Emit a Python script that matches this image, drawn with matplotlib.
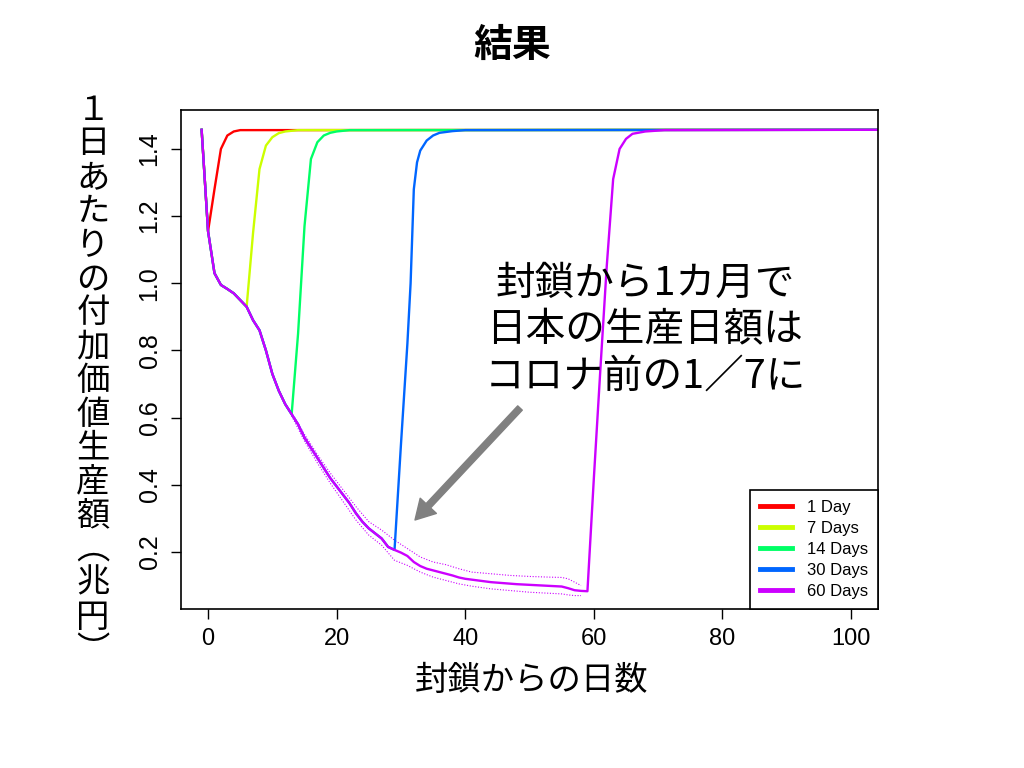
import matplotlib
matplotlib.use("Agg")
import matplotlib.pyplot as plt

JP = "Noto Sans CJK JP"
EN = "Liberation Sans"

# shared decline path (days since lockdown, trillion yen per day)
decline_days = [-1, 0, 1, 2, 3, 4, 5, 6, 7, 8, 9, 10, 11, 12, 13, 14, 15, 16, 17, 18,
                19, 20, 21, 22, 23, 24, 25, 26, 27, 28, 29, 30, 31, 32, 33, 34, 35, 36,
                37, 38, 39, 40, 42, 44, 46, 48, 50, 52, 54, 55, 56, 57, 58, 59]
decline_vals = [1.457, 1.155, 1.03, 0.995, 0.983, 0.97, 0.95, 0.93, 0.89, 0.86, 0.80,
                0.73, 0.68, 0.64, 0.61, 0.58, 0.54, 0.51, 0.48, 0.45, 0.42, 0.395, 0.37,
                0.345, 0.315, 0.29, 0.27, 0.255, 0.24, 0.215, 0.206, 0.198, 0.188, 0.17,
                0.158, 0.15, 0.145, 0.14, 0.135, 0.13, 0.124, 0.12, 0.115, 0.11, 0.107,
                0.104, 0.102, 0.10, 0.098, 0.097, 0.092, 0.086, 0.084, 0.083]

# recovery after lockdown ends
labels = ["1 Day", "7 Days", "14 Days", "30 Days", "60 Days"]
colors = ["#FF0000", "#CCFF00", "#00FF66", "#0066FF", "#CC00FF"]
end_day = [0, 6, 13, 29, 59]
rec_days = [
    [1, 2, 3, 4, 5, 104],
    [7, 8, 9, 10, 11, 12, 14, 104],
    [14, 15, 16, 17, 18, 19, 20, 22, 104],
    [30, 31, 31.5, 32, 32.5, 33, 34, 35, 36, 38, 40, 104],
    [60, 61, 62, 63, 64, 65, 66, 68, 71, 104],
]
rec_vals = [
    [1.28, 1.40, 1.44, 1.452, 1.456, 1.457],
    [1.15, 1.34, 1.41, 1.435, 1.447, 1.452, 1.456, 1.457],
    [0.85, 1.17, 1.37, 1.42, 1.44, 1.448, 1.452, 1.456, 1.457],
    [0.52, 0.82, 1.0, 1.28, 1.36, 1.395, 1.425, 1.44, 1.448, 1.453, 1.456, 1.457],
    [0.42, 0.74, 1.05, 1.31, 1.40, 1.43, 1.445, 1.452, 1.456, 1.457],
]

# dotted uncertainty band of the 60-day case
band_days = [13, 15, 17, 19, 21, 23, 25, 27, 29, 31, 33, 35, 37, 39, 41, 44, 47, 50,
             53, 55, 56, 57, 58]
band_upper = [0.615, 0.55, 0.49, 0.435, 0.385, 0.335, 0.29, 0.265, 0.235, 0.21, 0.185,
              0.17, 0.162, 0.15, 0.14, 0.135, 0.13, 0.127, 0.125, 0.124, 0.12, 0.11, 0.10]
band_lower = [0.605, 0.53, 0.465, 0.405, 0.35, 0.295, 0.25, 0.22, 0.175, 0.16, 0.14,
              0.125, 0.115, 0.105, 0.098, 0.09, 0.085, 0.08, 0.077, 0.075, 0.072, 0.07, 0.07]

fig = plt.figure(figsize=(10.24, 7.68), dpi=100)
ax = fig.add_axes([0.1768, 0.207, 0.6807, 0.6498])

ax.plot(band_days, band_upper, color=colors[4], lw=0.8, ls=(0, (1, 1.5)))
ax.plot(band_days, band_lower, color=colors[4], lw=0.8, ls=(0, (1, 1.5)))

for i in range(len(labels)):
    k = decline_days.index(end_day[i]) + 1
    xs = decline_days[:k] + rec_days[i]
    ys = decline_vals[:k] + rec_vals[i]
    ax.plot(xs, ys, color=colors[i], lw=1.7, label=labels[i])

ax.set_xlim(-4.2, 104.2)
ax.set_ylim(0.03, 1.516)
ax.set_xticks([0, 20, 40, 60, 80, 100])
ax.set_yticks([0.2, 0.4, 0.6, 0.8, 1.0, 1.2, 1.4])
ax.set_yticklabels(["0.2", "0.4", "0.6", "0.8", "1.0", "1.2", "1.4"])
for s in ax.spines.values():
    s.set_linewidth(1.2)
ax.tick_params(axis="both", direction="out", length=7, width=1.0)
ax.tick_params(axis="x", pad=7, labelsize=17)
ax.tick_params(axis="y", pad=7, labelsize=18, labelrotation=90)
for t in ax.get_xticklabels() + ax.get_yticklabels():
    t.set_family(EN)
for t in ax.get_yticklabels():
    t.set_va("center")

leg = ax.legend(loc="lower right", borderaxespad=0, fancybox=False, framealpha=1,
                edgecolor="black", prop={"family": EN, "size": 12},
                handlelength=1.9, handletextpad=0.9, labelspacing=0.36, borderpad=0.6)
leg.get_frame().set_linewidth(1.2)
for h in leg.get_lines():
    h.set_linewidth(3.5)

# title and axis labels
fig.text(0.5, 1 - 45 / 768, "結果", ha="center", va="center", fontsize=28,
         fontweight="bold", family=JP)
fig.text(532 / 1024, 1 - 680 / 768, "封鎖からの日数", ha="center", va="center",
         fontsize=24, family=JP)
ylab = "１日あたりの付加価値生産額︵兆円︶"
for i, ch in enumerate(ylab):
    fig.text(93 / 1024, 1 - (110 + i * 33.8) / 768, ch, ha="center", va="center",
             fontsize=24, family=[JP, "DejaVu Sans"])

# annotation
fig.text(645 / 1024, 1 - 330 / 768, "封鎖から1カ月で\n日本の生産日額は\nコロナ前の1／7に",
         ha="center", va="center", fontsize=28.5, family=JP, linespacing=1.2)
ax.annotate("", xy=(415 / 1024, 1 - 520 / 768), xytext=(520 / 1024, 1 - 408 / 768),
            xycoords="figure fraction", textcoords="figure fraction",
            arrowprops=dict(width=4.5, headwidth=16, headlength=14, color="#808080",
                            shrink=0))

fig.savefig("out.png", dpi=100, facecolor="white")
